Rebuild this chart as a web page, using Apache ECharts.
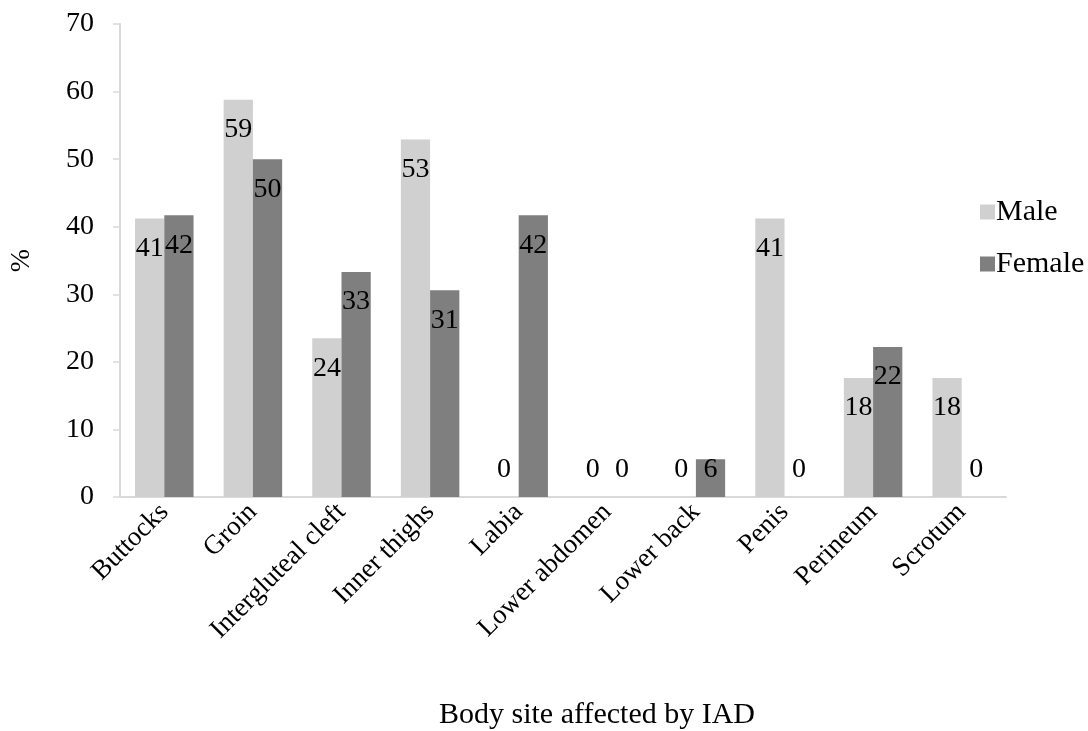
<!DOCTYPE html>
<html>
<head>
<meta charset="utf-8">
<script src="https://cdn.jsdelivr.net/npm/echarts@6/dist/echarts.min.js"></script>
<style>html,body{margin:0;padding:0;background:#fff}#c{width:1088px;height:731px}</style>
</head>
<body>
<div id="c"></div>
<script>
var categories = ['Buttocks','Groin','Intergluteal cleft','Inner thighs','Labia','Lower abdomen','Lower back','Penis','Perineum','Scrotum'];
var maleValues = [41.2, 58.8, 23.5, 52.9, 0, 0, 0, 41.2, 17.6, 17.6];
var femaleValues = [41.7, 50.0, 33.3, 30.6, 41.7, 0, 5.6, 0, 22.2, 0];
var yTicks = [0, 10, 20, 30, 40, 50, 60, 70];

var FONT = 'Liberation Serif';
function toItems(arr) {
  return arr.map(function (v) {
    var small = v < 8;
    return {
      value: v,
      label: small ? { position: 'insideBottom', distance: 13 } : { position: 'insideTop', distance: 16 }
    };
  });
}
var labelBase = {
  show: true, color: '#000', fontFamily: FONT, fontSize: 28,
  formatter: function (p) { return Math.round(p.value); }
};
var chart = echarts.init(document.getElementById('c'));
chart.setOption({
  backgroundColor: '#fff',
  animation: false,
  textStyle: { fontFamily: FONT, color: '#000' },
  title: {
    text: 'Body site affected by IAD',
    left: 592, top: 695, textAlign: 'center',
    textStyle: { fontFamily: FONT, fontSize: 30, fontWeight: 'normal', color: '#000' }
  },
  legend: {
    orient: 'vertical', left: 975, top: 192, itemWidth: 15, itemHeight: 15, itemGap: 22,
    icon: 'rect',
    textStyle: { fontFamily: FONT, fontSize: 30, color: '#000', padding: [0, 0, 0, -4] },
    data: ['Male', 'Female']
  },
  grid: { left: 118, right: 82, top: 24, bottom: 234, containLabel: false },
  xAxis: {
    type: 'category', data: categories,
    axisLine: { lineStyle: { color: '#d9d9d9', width: 2 } },
    axisTick: { show: false },
    axisLabel: { rotate: 45, interval: 0, fontFamily: FONT, fontSize: 27, color: '#000', margin: 11 }
  },
  yAxis: {
    type: 'value', min: yTicks[0], max: yTicks[yTicks.length - 1], interval: 10,
    name: '%', nameLocation: 'middle', nameRotate: 90, nameGap: 84,
    nameTextStyle: { fontFamily: FONT, fontSize: 28, color: '#000' },
    axisLine: { show: true, lineStyle: { color: '#d9d9d9', width: 2 } },
    axisTick: { show: true, length: 7, lineStyle: { color: '#d9d9d9', width: 1.5 } },
    splitLine: { show: false },
    axisLabel: { fontFamily: FONT, fontSize: 28, color: '#000', margin: 26 }
  },
  series: [
    { name: 'Male', type: 'bar', data: toItems(maleValues), itemStyle: { color: '#d0d0d0' },
      barWidth: '33%', barGap: '0%', label: labelBase },
    { name: 'Female', type: 'bar', data: toItems(femaleValues), itemStyle: { color: '#7f7f7f' },
      barWidth: '33%', barGap: '0%', label: labelBase }
  ]
});
</script>
</body>
</html>
